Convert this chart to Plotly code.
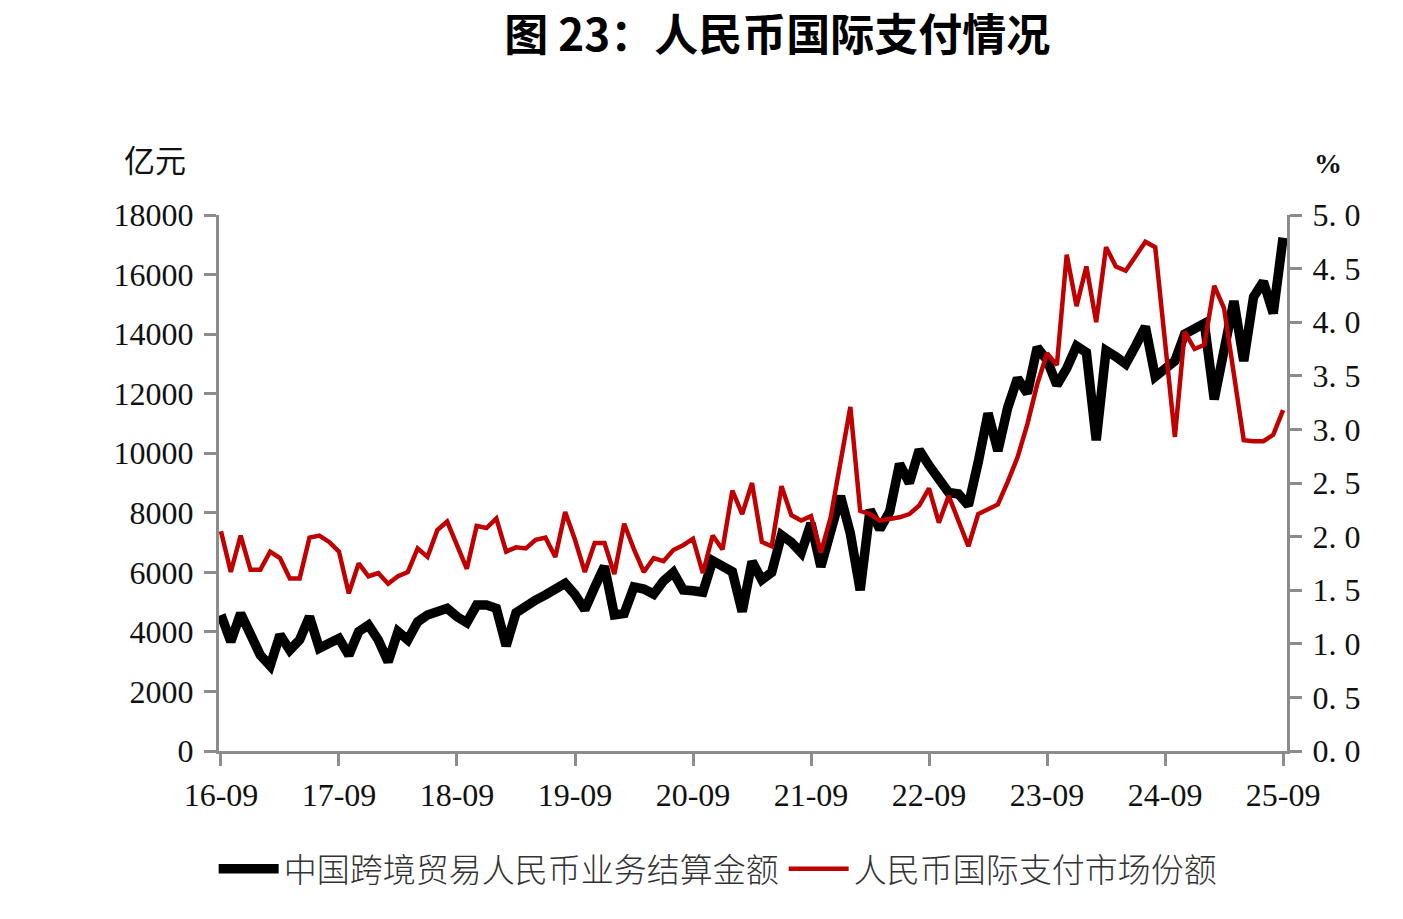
import plotly.graph_objects as go

# month index 0 = 2016-09 ... 108 = 2025-09
months = list(range(109))

tick_labels = ["16-09", "17-09", "18-09", "19-09", "20-09", "21-09", "22-09", "23-09", "24-09", "25-09"]

# 中国跨境贸易人民币业务结算金额 (亿元)
settlement = [
    4570, 3670, 4620, 3840, 3220, 2860, 3900, 3390, 3730, 4510, 3450, 3620,
    3780, 3220, 4010, 4230, 3730, 3000, 4010, 3730, 4340, 4570, 4680, 4790,
    4510, 4310, 4900, 4900, 4790, 3530, 4640, 4900, 5070, 5240, 5460, 5630,
    5250, 4750, 5500, 6200, 4570, 4620, 5510, 5440, 5270, 5710, 6000, 5410,
    5380, 5330, 6390, 6230, 6020, 4680, 6360, 5750, 6000, 7250, 7010, 6660,
    7650, 6190, 7380, 8560, 7300, 5400, 8100, 7450, 8040, 9640, 9000, 10110,
    9590, 9100, 8680, 8630, 8250, 9700, 11340, 10080, 11530, 12515, 12010, 13550,
    13130, 12290, 12850, 13600, 13380, 10440, 13450, 13240, 13000, 13600, 14250, 12570,
    12820, 13100, 14000, 14190, 14360, 11810, 13460, 15110, 13100, 15250, 15760, 14700,
    17240,
]

# 人民币国际支付市场份额 (%)
share = [
    2.05, 1.67, 2.01, 1.69, 1.69, 1.86, 1.80, 1.61, 1.61, 1.99, 2.01, 1.95,
    1.86, 1.47, 1.75, 1.63, 1.66, 1.56, 1.63, 1.67, 1.89, 1.81, 2.06, 2.14,
    1.92, 1.70, 2.10, 2.08, 2.17, 1.86, 1.90, 1.89, 1.97, 1.99, 1.81, 2.23,
    1.97, 1.67, 1.94, 1.94, 1.65, 2.12, 1.88, 1.67, 1.80, 1.77, 1.875, 1.92,
    1.98, 1.66, 2.01, 1.88, 2.43, 2.21, 2.50, 1.95, 1.91, 2.47, 2.20, 2.15,
    2.19, 1.85, 2.18, 2.69, 3.21, 2.24, 2.21, 2.15, 2.16, 2.18, 2.21, 2.29,
    2.45, 2.13, 2.38, 2.15, 1.91, 2.21, 2.26, 2.30, 2.51, 2.74, 3.05, 3.42,
    3.71, 3.60, 4.63, 4.15, 4.52, 4.00, 4.70, 4.52, 4.48, 4.61, 4.75, 4.70,
    3.82, 2.93, 3.91, 3.75, 3.79, 4.34, 4.13, 3.52, 2.90, 2.89, 2.89, 2.95,
    3.18,
]

left_ticks = list(range(0, 18001, 2000))
left_tick_text = [str(v) for v in left_ticks]
right_ticks = [i * 0.5 for i in range(11)]
right_tick_text = ["0. 0", "0. 5", "1. 0", "1. 5", "2. 0", "2. 5", "3. 0", "3. 5", "4. 0", "4. 5", "5. 0"]

AXIS_GRAY = "#8c8c8c"
NUM_FONT = dict(family="Liberation Serif", size=32, color="#111111")
CJK = "Noto Sans CJK SC"

fig = go.Figure()
fig.add_trace(go.Scatter(
    x=months, y=settlement, name="中国跨境贸易人民币业务结算金额",
    mode="lines", line=dict(color="#000000", width=9.5),
))
fig.add_trace(go.Scatter(
    x=months, y=share, name="人民币国际支付市场份额", yaxis="y2",
    mode="lines", line=dict(color="#C00000", width=4.5),
))

fig.update_layout(
    width=1403, height=919,
    paper_bgcolor="white", plot_bgcolor="white",
    margin=dict(l=219, r=116, t=215, b=168, pad=0, autoexpand=False),
    title=dict(
        text="<b>图 23：人民币国际支付情况</b>",
        x=0.554, xanchor="center", y=1 - 36 / 919, yanchor="middle",
        font=dict(family=CJK, size=44, color="#000000"),
    ),
    xaxis=dict(
        range=[-0.2, 108.4], tickvals=[12 * k for k in range(10)], ticktext=tick_labels,
        showline=True, linecolor=AXIS_GRAY, linewidth=3,
        ticks="outside", ticklen=12, tickwidth=3, tickcolor=AXIS_GRAY,
        showgrid=False, zeroline=False, tickfont=NUM_FONT, ticklabelstandoff=2,
    ),
    yaxis=dict(
        range=[0, 18000], tickvals=left_ticks, ticktext=left_tick_text,
        showline=True, linecolor=AXIS_GRAY, linewidth=3,
        ticks="outside", ticklen=12, tickwidth=3, tickcolor=AXIS_GRAY,
        showgrid=False, zeroline=False, tickfont=NUM_FONT, ticklabelstandoff=4,
    ),
    yaxis2=dict(
        range=[0, 5], tickvals=right_ticks, ticktext=right_tick_text,
        overlaying="y", side="right",
        showline=True, linecolor=AXIS_GRAY, linewidth=3,
        ticks="outside", ticklen=12, tickwidth=3, tickcolor=AXIS_GRAY,
        showgrid=False, zeroline=False, tickfont=NUM_FONT, ticklabelstandoff=4,
    ),
    legend=dict(
        orientation="h", x=-0.005, xanchor="left", y=-0.22, yanchor="middle",
        font=dict(family=CJK, size=33, color="#333333", weight=300),
        bgcolor="rgba(0,0,0,0)", itemwidth=60, tracegroupgap=0,
    ),
    showlegend=True,
)

fig.add_annotation(
    text="亿元", xref="paper", yref="paper", x=(155 - 219) / 1068, y=(751 - 158) / 536,
    xanchor="center", yanchor="middle", showarrow=False,
    font=dict(family=CJK, size=31, color="#111111"),
)
fig.add_annotation(
    text="<b>%</b>", xref="paper", yref="paper", x=(1328 - 219) / 1068, y=(751 - 163) / 536,
    xanchor="center", yanchor="middle", showarrow=False,
    font=dict(family="Liberation Serif", size=28, color="#111111"),
)

fig.write_html("out.html")
